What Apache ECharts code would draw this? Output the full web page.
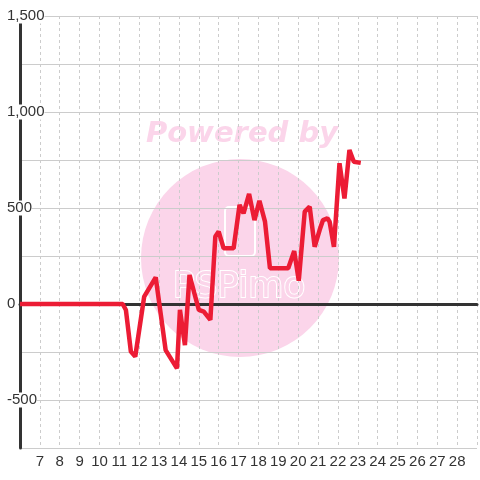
<!DOCTYPE html>
<html>
<head>
<meta charset="utf-8">
<script src="https://cdn.jsdelivr.net/npm/echarts@6/dist/echarts.min.js"></script>
<style>
  html, body { margin: 0; padding: 0; background: #fff; }
  #chart { width: 480px; height: 480px; }
</style>
</head>
<body>
<div id="chart"></div>
<script>
// x positions (day) and values
const xs = [6, 11.17, 11.33, 11.58, 11.8, 12.25, 12.83, 13.33, 13.9, 14.05, 14.3, 14.53, 15, 15.25, 15.58, 15.83, 16, 16.25, 16.75,
  16.83, 17.05, 17.25, 17.53, 17.8, 18.05, 18.33, 18.58, 19.5, 19.8, 20.03, 20.33, 20.58, 20.83, 21.08, 21.25, 21.47, 21.58, 21.8,
  22.08, 22.33, 22.58, 22.8, 23.15]
const ys = [0, 0, -31, -248, -274, 38, 139, -240, -335, -30, -214, 151, -31, -40, -83, 351, 377, 290, 290,
  281, 516, 472, 573, 437, 538, 429, 186, 186, 276, 121, 481, 507, 298, 385, 437, 446, 429, 298,
  733, 550, 802, 741, 735]

const yTicks = [-500, 0, 500, 1000, 1500]
const xTicks = [7, 8, 9, 10, 11, 12, 13, 14, 15, 16, 17, 18, 19, 20, 21, 22, 23, 24, 25, 26, 27, 28]

const data = xs.map((x, i) => [x, ys[i]])
const pink = '#fbd5ea'
const font = 'Liberation Sans, Arial, sans-serif'

const myChart = echarts.init(document.getElementById('chart'))

const option = {
  backgroundColor: '#fff',
  animation: false,
  grid: { left: 20, right: 0, top: 16, bottom: 32 },
  xAxis: {
    type: 'value',
    min: 6,
    max: 29,
    interval: 1,
    z: 2,
    axisLine: { onZero: true, lineStyle: { color: '#333', width: 3 } },
    axisTick: { show: false },
    axisLabel: {
      margin: 6,
      fontSize: 15,
      fontFamily: font,
      color: '#333',
      formatter: v => (xTicks.includes(v) ? String(v) : '')
    },
    splitLine: { show: true, lineStyle: { color: '#ccc', type: [3, 3], width: 1 } }
  },
  yAxis: {
    type: 'value',
    min: -750,
    max: 1500,
    interval: 250,
    z: 2,
    axisLine: { show: true, onZero: false, lineStyle: { color: '#333', width: 3 } },
    axisTick: { show: false },
    axisLabel: {
      align: 'left',
      margin: 13,
      fontSize: 15,
      fontFamily: font,
      color: '#333',
      backgroundColor: '#fff',
      formatter: v => (yTicks.includes(v) ? v.toLocaleString('en-US') : '')
    },
    splitLine: { show: true, lineStyle: { color: '#ccc', width: 1 } }
  },
  // watermark behind the grid
  graphic: [
    { type: 'circle', z: 0, shape: { cx: 240, cy: 258, r: 99 }, style: { fill: pink } },
    {
      type: 'text', z: 0, x: 242, y: 149,
      style: {
        text: 'Powered by', fill: pink, fontSize: 29, fontWeight: 'bold', fontStyle: 'italic',
        fontFamily: 'DejaVu Sans', align: 'center', verticalAlign: 'bottom'
      }
    },
    {
      type: 'rect', z: 0, shape: { x: 225, y: 207, width: 30, height: 49, r: 4 },
      style: { fill: 'none', stroke: '#fff', lineWidth: 2 }
    },
    {
      type: 'text', z: 0, x: 239, y: 288,
      style: {
        text: 'PSPimo', fill: pink, stroke: '#fff', lineWidth: 2, fontSize: 36,
        fontFamily: 'DejaVu Sans', align: 'center', verticalAlign: 'middle'
      }
    }
  ],
  series: [
    {
      type: 'line',
      z: 3,
      data,
      showSymbol: false,
      lineStyle: { color: '#ec1c35', width: 4.5 },
      itemStyle: { color: '#ec1c35' }
    }
  ]
}

option && myChart.setOption(option)
</script>
</body>
</html>
